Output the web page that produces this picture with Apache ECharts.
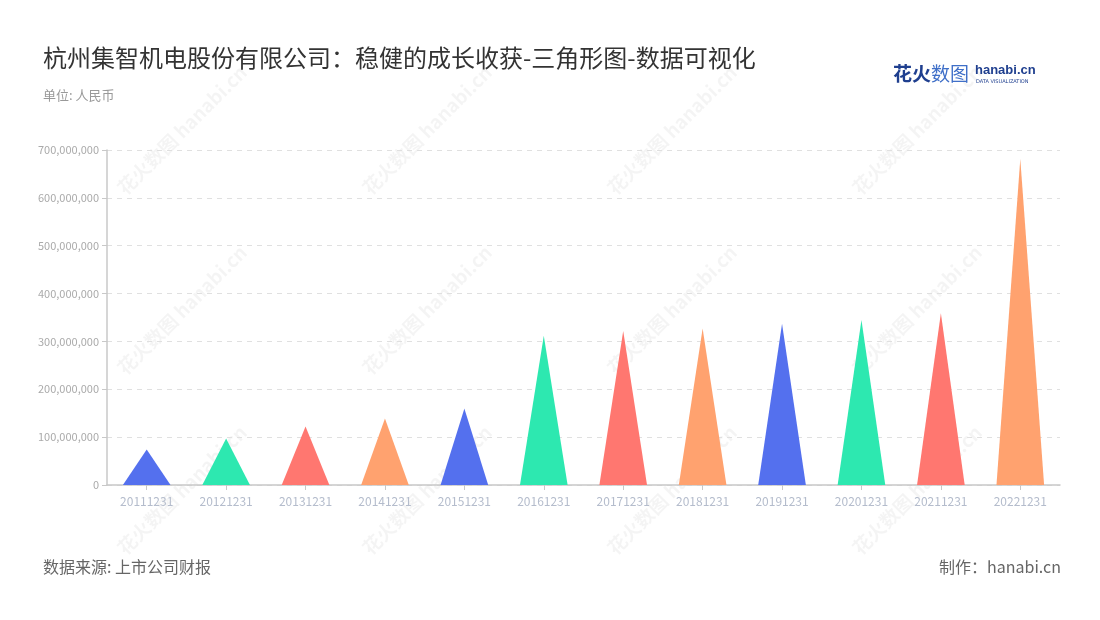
<!DOCTYPE html>
<html><head><meta charset="utf-8">
<script src="https://cdn.jsdelivr.net/npm/echarts@6/dist/echarts.min.js"></script>
<style>html,body{margin:0;padding:0;background:#fff}#c{width:1100px;height:620px}</style>
</head><body><div id="c"></div>
<script>
const categories = ['20111231','20121231','20131231','20141231','20151231','20161231','20171231','20181231','20191231','20201231','20211231','20221231'];
const values = [74000000, 97000000, 122000000, 139000000, 160000000, 312000000, 322000000, 327000000, 337000000, 345000000, 359000000, 681000000];
const palette = ['#5470ee', '#2de8b0', '#ff7770', '#ffa26f'];
const yTicks = { min: 0, max: 700000000, interval: 100000000 };

const chart = echarts.init(document.getElementById('c'), null, { renderer: 'canvas' });
const FONT = '"Noto Sans CJK SC","Noto Sans",sans-serif';

const watermarks = [];
[182, 427, 672, 917].forEach(function (x) {
  [130, 310, 490].forEach(function (y) {
    watermarks.push({
      type: 'text', x: x, y: y, rotation: Math.PI / 4, z: 0, silent: true,
      style: { text: '花火数图 hanabi.cn', fill: 'rgba(0,0,0,0.045)', font: 'bold 19px ' + FONT, align: 'center', verticalAlign: 'middle' }
    });
  });
});

chart.setOption({
  backgroundColor: '#fff',
  textStyle: { fontFamily: FONT },
  title: [
    { text: '杭州集智机电股份有限公司：稳健的成长收获-三角形图-数据可视化', left: 38, top: 41,
      textStyle: { fontSize: 24, fontWeight: 'normal', color: '#333', fontFamily: FONT } },
    { text: '单位: 人民币', left: 38, top: 84, textStyle: { fontSize: 13, fontWeight: 'normal', color: '#999', fontFamily: FONT } }
  ],
  graphic: watermarks.concat([
    { type: 'text', left: 893, top: 64, style: { text: '花火', fill: '#1f3f8f', font: 'bold 19px ' + FONT } },
    { type: 'text', left: 931, top: 64, style: { text: '数图', fill: '#3f6fc8', font: '19px ' + FONT } },
    { type: 'text', left: 975, top: 64, style: { text: 'hanabi.cn', fill: '#1f3f8f', font: 'bold 13px "Liberation Sans",sans-serif' } },
    { type: 'text', left: 976, top: 79, style: { text: 'DATA VISUALIZATION', fill: '#1f3f8f', font: '5px "DejaVu Sans",sans-serif' } },
    { type: 'text', left: 43, top: 559, style: { text: '数据来源: 上市公司财报', fill: '#666', font: '16px ' + FONT } },
    { type: 'text', right: 39, top: 559, style: { text: '制作：hanabi.cn', fill: '#666', font: '16px ' + FONT } }
  ]),
  grid: { left: 107, right: 40, top: 150, bottom: 135 },
  xAxis: {
    type: 'category', data: categories,
    axisLine: { lineStyle: { color: '#c8c8c8', width: 1.5 } },
    axisTick: { show: true, alignWithLabel: true, length: 5, lineStyle: { color: '#c8c8c8' } },
    axisLabel: { color: '#b4bccc', fontSize: 12, margin: 10 }
  },
  yAxis: {
    type: 'value', min: yTicks.min, max: yTicks.max, interval: yTicks.interval,
    axisLine: { show: true, lineStyle: { color: '#c8c8c8', width: 1.5 } },
    axisTick: { show: true, length: 5, lineStyle: { color: '#c8c8c8' } },
    axisLabel: { color: '#aaa', fontSize: 11, margin: 8,
      formatter: function (v) { return String(v).replace(/\B(?=(\d{3})+(?!\d))/g, ','); } },
    splitLine: { lineStyle: { color: '#e0e0e0', type: [5, 5] } }
  },
  series: [{
    type: 'pictorialBar',
    symbol: 'triangle',
    barCategoryGap: '40%',
    z: 10,
    data: values.map(function (v, i) { return { value: v, itemStyle: { color: palette[i % 4] } }; })
  }]
});
</script></body></html>
